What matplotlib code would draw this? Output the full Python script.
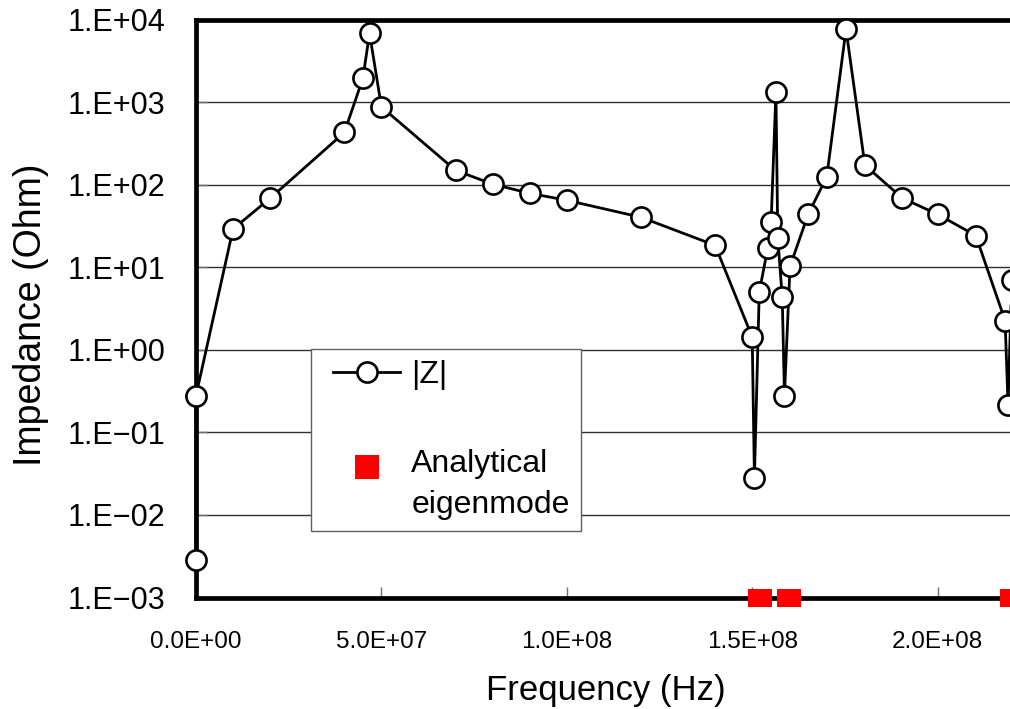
import matplotlib
matplotlib.use("Agg")
import matplotlib.pyplot as plt
import numpy as np
from matplotlib.lines import Line2D
from matplotlib.path import Path

plt.rcParams['font.family'] = ['Liberation Sans', 'DejaVu Sans']

# measured |Z| sweep
freq_hz = [0.0, 0.0, 1.0e7, 2.0e7, 4.0e7, 4.5e7, 4.68e7, 5.0e7, 7.0e7, 8.0e7,
           9.0e7, 1.0e8, 1.2e8, 1.4e8, 1.500e8, 1.506e8, 1.519e8, 1.542e8,
           1.551e8, 1.564e8, 1.569e8, 1.581e8, 1.587e8, 1.602e8, 1.651e8,
           1.701e8, 1.753e8, 1.804e8, 1.905e8, 2.0e8, 2.103e8, 2.182e8,
           2.19e8, 2.2e8]
impedance = [0.00286, 0.28, 29.2, 68.8, 431, 1950, 6860, 882, 150, 102,
             79, 65, 40.5, 18.5, 1.43, 0.0283, 5.0, 17.2,
             35.5, 1318, 22.5, 4.36, 0.28, 10.3, 44,
             125, 7670, 173, 69, 44, 24.3, 2.27,
             0.217, 6.95]

# analytical eigenmodes, marked on the lower edge of the axis
eigen_hz = [1.52e8, 1.60e8, 2.20e8]
eigen_level = [1e-3, 1e-3, 1e-3]

x_ticks = [0.0, 5e7, 1e8, 1.5e8, 2e8]
x_tick_labels = ['0.0E+00', '5.0E+07', '1.0E+08', '1.5E+08', '2.0E+08']
y_ticks = [1e-3, 1e-2, 1e-1, 1e0, 1e1, 1e2, 1e3, 1e4]
y_tick_labels = ['1.E\u221203', '1.E\u221202', '1.E\u221201', '1.E+00',
                 '1.E+01', '1.E+02', '1.E+03', '1.E+04']

W, H = 1010, 709
fig = plt.figure(figsize=(W / 100, H / 100), dpi=100)
# the x range runs past the right edge of the figure
ax = fig.add_axes([196 / W, 111.5 / H, 927 / W, 577.7 / H])

ax.set_yscale('log')
ax.set_xlim(0, 2.5e8)
ax.set_ylim(1e-3, 1e4)

ax.set_yticks(y_ticks)
ax.set_yticklabels(y_tick_labels)
ax.yaxis.set_minor_locator(matplotlib.ticker.NullLocator())
ax.set_xticks(x_ticks)
ax.set_xticklabels(x_tick_labels)

ax.tick_params(axis='y', direction='in', length=8, width=1, color='#707070',
               labelsize=22, pad=22)
ax.tick_params(axis='x', direction='in', length=8, width=1, color='#707070',
               labelsize=17.5, pad=24)

ax.grid(axis='y', color='#303030', linewidth=1)
ax.set_axisbelow(True)

for side in ('left', 'top', 'bottom'):
    ax.spines[side].set_linewidth(3.4)
    ax.spines[side].set_color('black')
ax.spines['right'].set_visible(False)

zline, = ax.plot(freq_hz, impedance, '-o', color='black', linewidth=2.0,
                 markersize=14.5, markerfacecolor='white',
                 markeredgecolor='black', markeredgewidth=1.9,
                 clip_on=False, zorder=5)

rect = Path([(-1, -0.79), (1, -0.79), (1, 0.79), (-1, 0.79), (-1, -0.79)],
            [Path.MOVETO, Path.LINETO, Path.LINETO, Path.LINETO, Path.CLOSEPOLY])
ax.plot(eigen_hz, eigen_level, linestyle='none', marker=rect, color='red',
        markersize=17.3, markeredgewidth=0, clip_on=False, zorder=6)

ax.set_xlabel('Frequency (Hz)', fontsize=25)
ax.xaxis.set_label_coords(0.4424, -0.132)
ax.set_ylabel('Impedance (Ohm)', fontsize=27)
ax.yaxis.set_label_coords(-0.159, 0.49)

eig_proxy = Line2D([], [], linestyle='none', marker='s', color='red',
                   markersize=17.3, markeredgewidth=0)
leg = ax.legend([zline, eig_proxy], ['|Z|', 'Analytical\neigenmode'],
                loc='upper left', bbox_to_anchor=(311 / W, 1 - 349 / H),
                bbox_transform=fig.transFigure, borderaxespad=0,
                fancybox=False, framealpha=1, edgecolor='#606060',
                fontsize=23, handlelength=2.1, handletextpad=0.69,
                labelspacing=1.85, borderpad=0.35)
leg.get_frame().set_linewidth(1)
for t in leg.get_texts():
    t.set_linespacing(1.45)
# nudge the handles right, and the square up level with the first text line
for h in leg.legend_handles:
    h.set_xdata(np.asarray(h.get_xdata()) + 8)
sq = leg.legend_handles[1]
sq.set_ydata(np.asarray(sq.get_ydata()) + 13)

fig.savefig('out.png', dpi=100)
